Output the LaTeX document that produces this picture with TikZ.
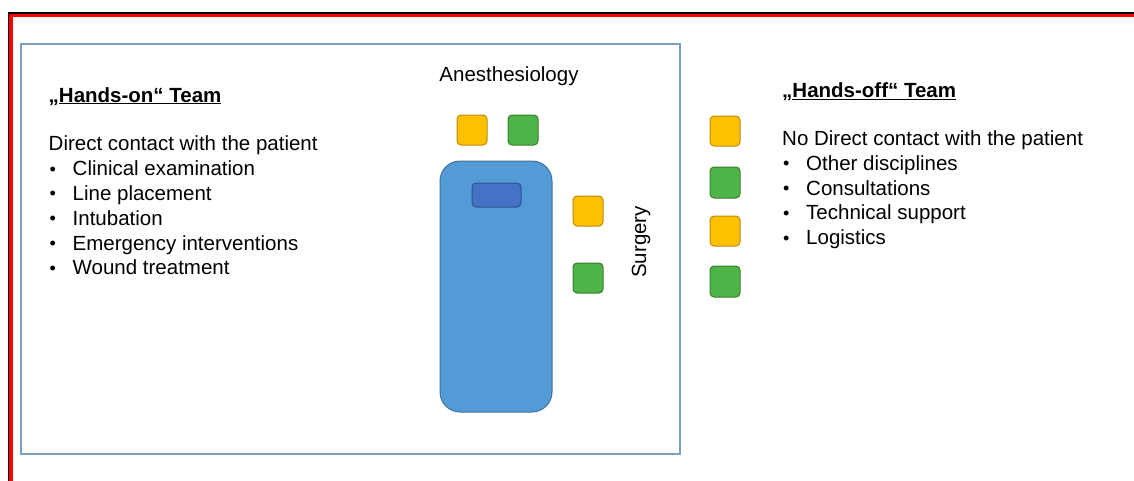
\documentclass[tikz,border=0pt]{standalone}
\usepackage{fontspec}
\setmainfont{Liberation Sans}
\usepackage{xcolor}
\definecolor{framered}{RGB}{255,0,0}
\definecolor{roomblue}{RGB}{122,160,196}
\definecolor{bedblue}{RGB}{83,155,214}
\definecolor{beddark}{RGB}{65,113,156}
\definecolor{pillowblue}{RGB}{68,114,196}
\definecolor{pillowdark}{RGB}{47,82,143}
\definecolor{seatyellow}{RGB}{255,192,0}
\definecolor{seatyellowdark}{RGB}{188,140,0}
\definecolor{seatgreen}{RGB}{78,180,72}
\definecolor{seatgreendark}{RGB}{58,125,46}

\tikzset{
  yellowseat/.style={fill=seatyellow, draw=seatyellowdark, line width=1, rounded corners=4},
  greenseat/.style={fill=seatgreen, draw=seatgreendark, line width=1, rounded corners=4},
  label/.style={inner sep=0, font=\fontsize{20.5}{24}\selectfont},
  listline/.style={label, anchor=base west},
}
\newcommand{\bul}[1]{\makebox[24pt][l]{\hspace{1pt}\raisebox{0.6pt}{\scalebox{0.88}{•}}}#1}

\begin{document}
\begin{tikzpicture}[x=1pt, y=-1pt]
                % Canvas
                \useasboundingbox (0,0) rectangle (1134,480);
                
                % Red frame
                \draw[black, line width=1.2] (8.6,13) rectangle (1200,520);
                \draw[framered, line width=3.6] (11,15.4) rectangle (1200,520);
                
                % Room
                \draw[roomblue, line width=1.5] (21,44) rectangle (680,454);
                
                % Bed and pillow
                \filldraw[fill=bedblue, draw=beddark, line width=1, rounded corners=20] (440,161) rectangle (552,412);
                \filldraw[fill=pillowblue, draw=pillowdark, line width=1, rounded corners=4] (472,183) rectangle (521,207);
                
                % Anesthesiology
                \filldraw[yellowseat] (457,115) rectangle (487,145);
                \filldraw[greenseat] (508,115) rectangle (538,145);
                \node[label, anchor=base] (anesth) at (509,81) {Anesthesiology};
                
                % Surgery
                \filldraw[yellowseat] (573,196) rectangle (603,226);
                \filldraw[greenseat] (573,263) rectangle (603,293);
                \node[label, anchor=base, rotate=90] (surgery) at (646,242) {Surgery};
                
                % Hands-off seats
                \filldraw[yellowseat] (710,116) rectangle (740,146);
                \filldraw[greenseat] (710,167) rectangle (740,198);
                \filldraw[yellowseat] (710,216) rectangle (740,246);
                \filldraw[greenseat] (710,266) rectangle (740,297);
                
                % Hands-on team
                \node[listline] (ontitle) at (48.5,102) {\bfseries „\underline{Hands-on“ Team}};
                \node[listline] (onhead) at (48.5,150.7) {Direct contact with the patient};
                \foreach \item [count=\i] in {Clinical examination, Line placement, Intubation, Emergency interventions, Wound treatment}
                  \node[listline] (on\i) at (48.5,150.9+24.8*\i) {\bul{\item}};
                
                % Hands-off team
                \node[listline] (offtitle) at (782,97.5) {\bfseries „\underline{Hands-off“ Team}};
                \node[listline] (offhead) at (782,145) {No Direct contact with the patient};
                \foreach \item [count=\i] in {Other disciplines, Consultations, Technical support, Logistics}
                  \node[listline] (off\i) at (782,145.5+24.8*\i) {\bul{\item}};
            \end{tikzpicture}
\end{document}
